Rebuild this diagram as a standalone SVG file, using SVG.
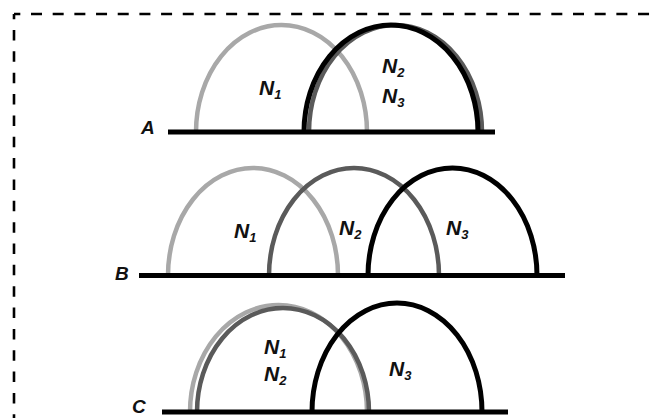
<svg xmlns="http://www.w3.org/2000/svg" width="658" height="418" viewBox="0 0 658 418">
<style>
  .base{stroke:#000;stroke-width:5;fill:none}
  .arc{fill:none;stroke-linecap:butt}
  .l1{stroke:#a8a8a8;stroke-width:4.5}
  .l2{stroke:#5a5a5a;stroke-width:4.5}
  .l3{stroke:#000;stroke-width:5}
  .lbl{font-family:"Liberation Sans",Arial,sans-serif;font-weight:bold;font-style:italic;font-size:21px;fill:#111}
  .sub{font-size:13px}
  .side{font-size:19px}
  .border{stroke:#000;stroke-width:2.6;fill:none}
</style>
<rect width="658" height="418" fill="#fff"/>
<g id="border">
  <line class="border" x1="14" y1="14" x2="658" y2="14" stroke-dasharray="11 10.68" stroke-dashoffset="4.68"/>
  <line class="border" x1="14" y1="14" x2="14" y2="418" stroke-dasharray="10.5 10.85" stroke-dashoffset="5.35"/>
</g>
<g id="panelA">
  <path class="arc l1" d="M196 132 A85.5 107 0 0 1 367 132"/>
  <path class="arc l2" d="M309 132 A86.5 107 0 0 1 482 132"/>
  <path class="arc l3" d="M304 132 A87 107 0 0 1 478 132" stroke-width="5.5"/>
  <line class="base" x1="168" y1="132" x2="495" y2="132"/>
  <text class="lbl side" x="141" y="134">A</text>
  <text class="lbl" x="259" y="95">N<tspan class="sub" dy="4">1</tspan></text>
  <text class="lbl" x="382" y="73">N<tspan class="sub" dy="4">2</tspan></text>
  <text class="lbl" x="382" y="103">N<tspan class="sub" dy="4">3</tspan></text>
</g>
<g id="panelB">
  <path class="arc l1" d="M168 275.5 A85 107.5 0 0 1 338 275.5"/>
  <path class="arc l2" d="M269 275.5 A85 107.5 0 0 1 439 275.5"/>
  <path class="arc l3" d="M368 275.5 A84.5 107.5 0 0 1 537 275.5"/>
  <line class="base" x1="139" y1="275.5" x2="565" y2="275.5"/>
  <text class="lbl side" x="115" y="280">B</text>
  <text class="lbl" x="234" y="238">N<tspan class="sub" dy="4">1</tspan></text>
  <text class="lbl" x="339" y="235">N<tspan class="sub" dy="4">2</tspan></text>
  <text class="lbl" x="446" y="235">N<tspan class="sub" dy="4">3</tspan></text>
</g>
<g id="panelC">
  <path class="arc l1" d="M190 412 A88.5 107 0 0 1 367 412"/>
  <path class="arc l2" d="M197 412 A86 104 0 0 1 369 412"/>
  <path class="arc l3" d="M312 412 A85 109 0 0 1 482 412"/>
  <line class="base" x1="162" y1="412" x2="508" y2="412"/>
  <text class="lbl side" x="132" y="413">C</text>
  <text class="lbl" x="264" y="354">N<tspan class="sub" dy="4">1</tspan></text>
  <text class="lbl" x="264" y="381">N<tspan class="sub" dy="4">2</tspan></text>
  <text class="lbl" x="389" y="376">N<tspan class="sub" dy="4">3</tspan></text>
</g>
</svg>
